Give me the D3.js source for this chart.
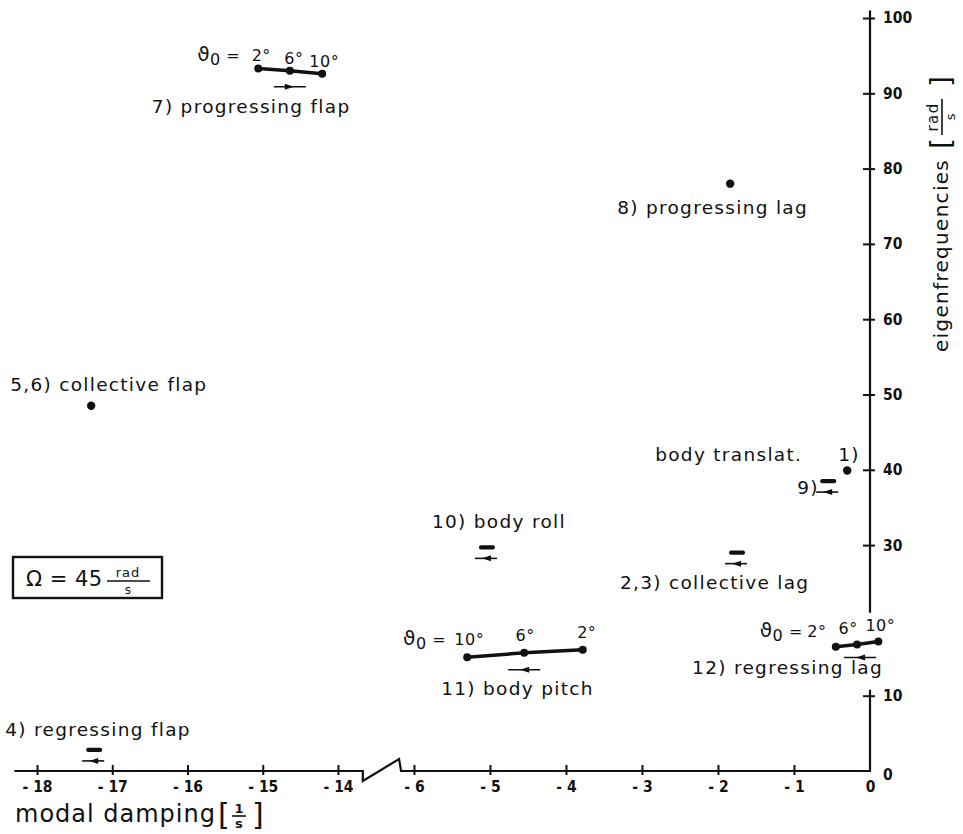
<!DOCTYPE html>
<html>
<head>
<meta charset="utf-8">
<script src="https://cdn.jsdelivr.net/npm/d3@7"></script>
<style>
  body { margin: 0; background: #fff; }
  svg { display: block; }
  text { font-family: "DejaVu Sans", sans-serif; fill: #111; }
  .lbl { font-size: 18.5px; letter-spacing: 1.3px; }
  .theta { font-size: 16px; letter-spacing: 0.5px; }
  .tick text { font-family: "DejaVu Sans Condensed", "DejaVu Sans", sans-serif; font-size: 15.5px; font-weight: bold; fill: #111; }
</style>
</head>
<body>
<div id="chart"></div>
<script>
// ===========================
// Eigenvalues of rotor/body modes, Omega = 45 rad/s
// broken damping axis (-18..-14 | -6..0), frequency axis on the right
// ===========================

// ---- data ----
const xTicksLeft = [-18, -17, -16, -15, -14];
const xTicksRight = [-6, -5, -4, -3, -2, -1, 0];
const yTicks = [0, 10, 30, 40, 50, 60, 70, 80, 90, 100];

// modes traced over collective pitch (three points each)
const lineModes = ['7) progressing flap', '11) body pitch', '12) regressing lag'];
const lineThetas = [['2°', '6°', '10°'], ['10°', '6°', '2°'], ['2°', '6°', '10°']];
const lineDamping = [[-15.06, -14.64, -14.21], [-5.30, -4.55, -3.78], [-0.45, -0.17, 0.11]];
const lineFreq = [[93.3, 93.0, 92.6], [15.1, 15.7, 16.1], [16.5, 16.8, 17.2]];

// single eigenvalue dots
const dotModes = ['8) progressing lag', '5,6) collective flap', '1)'];
const dotDamping = [-1.84, -17.28, -0.30];
const dotFreq = [78.0, 48.5, 39.9];

// small "bar + arrow" markers (hardly moving with pitch)
const pairModes = ['10) body roll', '2,3) collective lag', '9)', '4) regressing flap'];
const pairDamping = [-5.04, -1.75, -0.55, -17.24];
const pairFreq = [29.7, 29.0, 38.5, 2.8];

// ---- layout (pixel offsets of labels from their marks) ----
const layout = {
  line: [
    { lab: [-138, 42], arrow: [0, 16, 1], theta: [[3, -7], [4, -7], [2, -7]], prefix: -18 },
    { lab: [-83, 42], arrow: [0, 17, -1], theta: [[2, -12], [1, -12], [4, -12]], prefix: -21 },
    { lab: [-165, 30], arrow: [3, 13, -1], theta: [[-19, -10], [-9, -10], [2, -10]], prefix: -33 }
  ],
  dot: [[-113, 30], [-81, -15], [-9, -10]],
  pair: [[-55, -19], [-117, 36], [-31, 13], [-89, -14]]
};

const W = 963, H = 834;
const svg = d3.select('#chart').append('svg').attr('width', W).attr('height', H);

// ---- scales ----
const xLeft = d3.scaleLinear().domain([-18, -14]).range([37, 338]);
const xRight = d3.scaleLinear().domain([-6, 0]).range([414, 870]);
const X = v => (v < -10 ? xLeft(v) : xRight(v));
const y = d3.scaleLinear().domain([0, 100]).range([771, 18]);

const fmtX = d => (d === 0 ? '0' : '- ' + Math.abs(d));

// ---- x axis (two pieces) ----
[[xLeft, xTicksLeft], [xRight, xTicksRight]].forEach(([sc, tv]) => {
  const g = svg.append('g')
    .attr('transform', `translate(0,${y(0)})`)
    .call(d3.axisBottom(sc).tickValues(tv).tickSize(4).tickPadding(6).tickFormat(fmtX));
  g.select('.domain').remove();
  g.selectAll('.tick line').attr('y1', -6).attr('stroke', '#111').attr('stroke-width', 2)
    .filter(d => d === 0).remove();
});

// ---- y axis ----
const gy = svg.append('g')
  .attr('transform', `translate(${xRight(0)},0)`)
  .call(d3.axisRight(y).tickValues(yTicks).tickSize(5).tickPadding(8).tickFormat(d3.format('d')));
gy.select('.domain').remove();
gy.selectAll('.tick line').attr('x1', -7).attr('stroke', '#111').attr('stroke-width', 2)
  .filter(d => d === 0).remove();
gy.selectAll('.tick').filter(d => d === 0).select('text').attr('dy', '0.55em');

// axis lines with the break symbol and the gap in the frequency axis
const y0 = y(0), bx0 = xLeft(-13.67), bx1 = xRight(-6.17);
svg.append('path')
  .attr('d', `M${xLeft(-18.3)},${y0}H${bx0}V${y0 + 10}L${bx1 - 2},${y0 - 12}L${bx1},${y0}H${xRight(0)}`
    + `V${y(10.8)}M${xRight(0)},${y(21)}V${y(101)}`)
  .attr('fill', 'none').attr('stroke', '#111').attr('stroke-width', 2.2);

// ---- helpers ----
function arrow(cx, cy, len, dir) {
  svg.append('line')
    .attr('x1', cx - len / 2).attr('x2', cx + len / 2)
    .attr('y1', cy).attr('y2', cy)
    .attr('stroke', '#111').attr('stroke-width', 1.6);
  const tip = cx + dir * 4;
  svg.append('path')
    .attr('d', `M${tip},${cy}L${tip - dir * 9},${cy - 3}L${tip - dir * 9},${cy + 3}Z`)
    .attr('fill', '#111');
}

function theta0(x, yb) {
  const t = svg.append('text').attr('class', 'theta').attr('x', x).attr('y', yb).attr('text-anchor', 'end');
  t.append('tspan').style('font-size', '20px').text('ϑ');
  t.append('tspan').attr('dy', 4).text('0');
  t.append('tspan').attr('dy', -4).text(' =');
}

// ---- line modes ----
lineModes.forEach((name, i) => {
  const pts = lineDamping[i].map((d, j) => [X(d), y(lineFreq[i][j])]);
  const L = layout.line[i];
  svg.append('path')
    .attr('d', d3.line()(pts))
    .attr('fill', 'none').attr('stroke', '#111').attr('stroke-width', 3.5);
  svg.selectAll(null).data(pts).join('circle')
    .attr('cx', p => p[0]).attr('cy', p => p[1]).attr('r', 4).attr('fill', '#111');
  lineThetas[i].forEach((t, j) => {
    svg.append('text').attr('class', 'theta')
      .attr('x', pts[j][0] + L.theta[j][0]).attr('y', pts[j][1] + L.theta[j][1])
      .attr('text-anchor', 'middle').text(t);
  });
  theta0(pts[0][0] + L.prefix, pts[0][1] + L.theta[0][1]);
  arrow(pts[1][0] + L.arrow[0], pts[1][1] + L.arrow[1], 32, L.arrow[2]);
  svg.append('text').attr('class', 'lbl')
    .attr('x', pts[1][0] + L.lab[0]).attr('y', pts[1][1] + L.lab[1]).text(name);
});

// ---- dots ----
dotModes.forEach((name, i) => {
  const cx = X(dotDamping[i]), cy = y(dotFreq[i]);
  svg.append('circle').attr('cx', cx).attr('cy', cy).attr('r', 4.2).attr('fill', '#111');
  svg.append('text').attr('class', 'lbl')
    .attr('x', cx + layout.dot[i][0]).attr('y', cy + layout.dot[i][1]).text(name);
});
// "body translat." belongs to mode 1)
svg.append('text').attr('class', 'lbl')
  .attr('x', X(dotDamping[2]) - 192).attr('y', y(dotFreq[2]) - 10).text('body translat.');

// ---- bar + arrow markers ----
pairModes.forEach((name, i) => {
  const cx = X(pairDamping[i]), cy = y(pairFreq[i]);
  svg.append('rect').attr('x', cx - 8).attr('y', cy - 2.2).attr('width', 16).attr('height', 4.4)
    .attr('rx', 2).attr('fill', '#111');
  arrow(cx - 1, cy + 11, 22, -1);
  svg.append('text').attr('class', 'lbl')
    .attr('x', cx + layout.pair[i][0]).attr('y', cy + layout.pair[i][1]).text(name);
});

// ---- Omega box ----
svg.append('rect').attr('x', 13).attr('y', 557).attr('width', 149).attr('height', 41)
  .attr('fill', 'none').attr('stroke', '#111').attr('stroke-width', 2.4);
svg.append('text').attr('x', 26).attr('y', 586).style('font-size', '21px').style('letter-spacing', '0.5px')
  .text('Ω = 45');
svg.append('text').attr('x', 128).attr('y', 577).attr('text-anchor', 'middle')
  .style('font-size', '13px').style('letter-spacing', '1px').text('rad');
svg.append('line').attr('x1', 107).attr('x2', 150).attr('y1', 581).attr('y2', 581)
  .attr('stroke', '#111').attr('stroke-width', 1.6);
svg.append('text').attr('x', 128).attr('y', 594).attr('text-anchor', 'middle')
  .style('font-size', '12px').text('s');

// ---- axis titles ----
const xt = svg.append('text').attr('x', 15).attr('y', 822)
  .style('font-size', '24px').style('letter-spacing', '1px').text('modal damping');
const xe = 15 + xt.node().getComputedTextLength() + 2;
svg.append('text').attr('x', xe).attr('y', 825).style('font-size', '30px').text('[');
svg.append('text').attr('x', xe + 21).attr('y', 813).attr('text-anchor', 'middle')
  .style('font-size', '13px').style('font-weight', 'bold').text('1');
svg.append('line').attr('x1', xe + 14).attr('x2', xe + 28).attr('y1', 816).attr('y2', 816)
  .attr('stroke', '#111').attr('stroke-width', 1.6);
svg.append('text').attr('x', xe + 21).attr('y', 828).attr('text-anchor', 'middle')
  .style('font-size', '13px').style('font-weight', 'bold').text('s');
svg.append('text').attr('x', xe + 34).attr('y', 825).style('font-size', '30px').text(']');

const yg = svg.append('g').attr('transform', 'translate(948,352) rotate(-90)');
const yt = yg.append('text').attr('x', 0).attr('y', 0)
  .style('font-size', '20px').style('letter-spacing', '1.3px').text('eigenfrequencies');
const ye = yt.node().getComputedTextLength() + 10;
yg.append('text').attr('x', ye).attr('y', 3).style('font-size', '28px').text('[');
yg.append('text').attr('x', ye + 32).attr('y', -10).attr('text-anchor', 'middle')
  .style('font-size', '15px').style('letter-spacing', '1.5px').text('rad');
yg.append('line').attr('x1', ye + 14).attr('x2', ye + 50).attr('y1', -6).attr('y2', -6)
  .attr('stroke', '#111').attr('stroke-width', 1.6);
yg.append('text').attr('x', ye + 32).attr('y', 7).attr('text-anchor', 'middle')
  .style('font-size', '13px').text('s');
yg.append('text').attr('x', ye + 62).attr('y', 3).style('font-size', '28px').text(']');
</script>
</body>
</html>
